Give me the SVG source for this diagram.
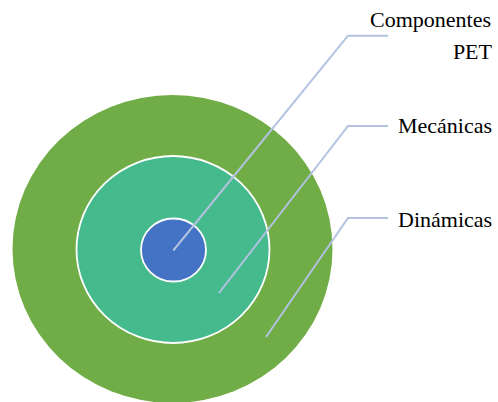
<svg xmlns="http://www.w3.org/2000/svg" width="498" height="402" viewBox="0 0 498 402">
  <style>
    .lead { fill: none; stroke: #B4C2E2; stroke-width: 2; stroke-linejoin: miter; }
    .ring { stroke: #FFFFFF; stroke-width: 1.8; }
  </style>
  <rect width="498" height="402" fill="#FFFFFF"/>

  <g id="dinamicas">
    <ellipse cx="172.5" cy="249" rx="160" ry="154" fill="#70AD47"/>
  </g>
  <g id="mecanicas">
    <ellipse class="ring" cx="173" cy="249.5" rx="96.5" ry="93.5" fill="#45BB8D"/>
  </g>
  <g id="componentes-pet">
    <ellipse class="ring" cx="173.5" cy="250" rx="32.5" ry="31.5" fill="#4472C4"/>
  </g>

  <g id="connectors">
    <polyline class="lead" points="173.3,250.5 348,35.7 388,35.7"/>
    <polyline class="lead" points="219,293 348,126 388,126"/>
    <polyline class="lead" points="266,337 348,218 388,218"/>
  </g>

  <g id="labels" fill="#000000">
    <text x="491" y="27" text-anchor="end" style="font-family:'Liberation Serif','Times New Roman',serif;font-size:22px">Componentes</text>
    <text x="492" y="58.5" text-anchor="end" style="font-family:'Liberation Serif','Times New Roman',serif;font-size:22px">PET</text>
    <text x="398" y="133" style="font-family:'Liberation Serif','Times New Roman',serif;font-size:22px">Mecánicas</text>
    <text x="398" y="226.5" style="font-family:'Liberation Serif','Times New Roman',serif;font-size:22px">Dinámicas</text>
  </g>
</svg>
